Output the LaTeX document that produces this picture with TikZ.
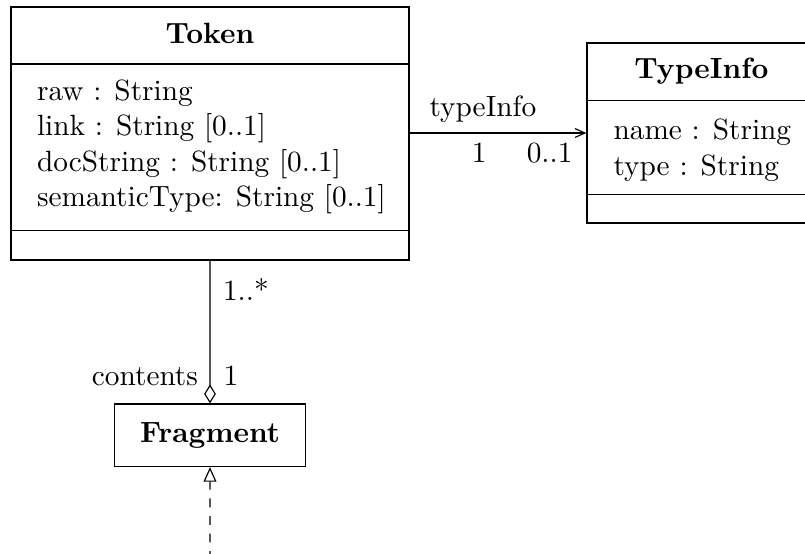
\documentclass[tikz,border=0pt]{standalone}
\usetikzlibrary{fit,arrows.meta}
\begin{document}
\begin{tikzpicture}[x=0.012cm, y=-0.012cm,
  classbox/.style={draw, inner sep=0pt, line width=0.4pt},
  title/.style={font=\bfseries, inner sep=0pt, anchor=base},
  attr/.style={inner sep=0pt, anchor=base west},
  lbl/.style={inner sep=0pt},
  assoc/.style={line width=0.4pt},
  navtip/.style={-{Straight Barb[length=3.4pt,width=3pt]}},
  aggtip/.style={{Diamond[open,length=6.5pt,width=4pt]}-},
  realtip/.style={-{Triangle[open,length=5pt,width=4.4pt]}}]
\clip (0,0) rectangle (805,553);

% Token class
\coordinate (tokA) at (11,7);
\coordinate (tokB) at (409,260);
\node[classbox, fit=(tokA)(tokB)] (token) {};
\draw (11,64) -- (409,64);
\draw (11,230.5) -- (409,230.5);
\node[title] (tokname) at (210,43) {Token};
\node[attr] (tokraw)  at (36.5,100)   {raw : String};
\node[attr] (toklink) at (36.5,135.5) {link : String [0..1]};
\node[attr] (tokdoc)  at (36.5,171)   {docString : String [0..1]};
\node[attr] (toksem)  at (36.5,206.5) {semanticType: String [0..1]};

% TypeInfo class
\coordinate (tiA) at (587,43);
\coordinate (tiB) at (816,223);
\node[classbox, fit=(tiA)(tiB)] (typeinfo) {};
\draw (587,100.5) -- (816,100.5);
\draw (587,194.5) -- (816,194.5);
\node[title] (tiname) at (701.5,78.5) {TypeInfo};
\node[attr] (tiname1) at (613,139.5) {name : String};
\node[attr] (titype)  at (613,175)   {type : String};

% Fragment class
\coordinate (frA) at (114.5,404);
\coordinate (frB) at (305.5,466.5);
\node[classbox, fit=(frA)(frB)] (fragment) {};
\node[title] (frname) at (210,442.5) {Fragment};

% Associations
\draw[assoc, navtip] (token.east |- typeinfo.west) -- (typeinfo.west);
\node[lbl, anchor=base west] (rolename) at (429,116.5) {typeInfo};
\node[lbl, anchor=base east] (multsrc) at (487,162.5) {1};
\node[lbl, anchor=base east] (multdst) at (573,162.5) {0..1};

\draw[assoc, aggtip] (fragment.north) -- (token.south);
\node[lbl, anchor=base west] (multmany) at (222.5,300) {1..*};
\node[lbl, anchor=base east] (rolecont) at (198.5,385) {contents};
\node[lbl, anchor=base west] (multone) at (223,385) {1};

% Realization from below
\coordinate (impl) at (210,560);
\draw[assoc, dashed, realtip] (impl) -- (fragment.south);
\end{tikzpicture}
\end{document}
